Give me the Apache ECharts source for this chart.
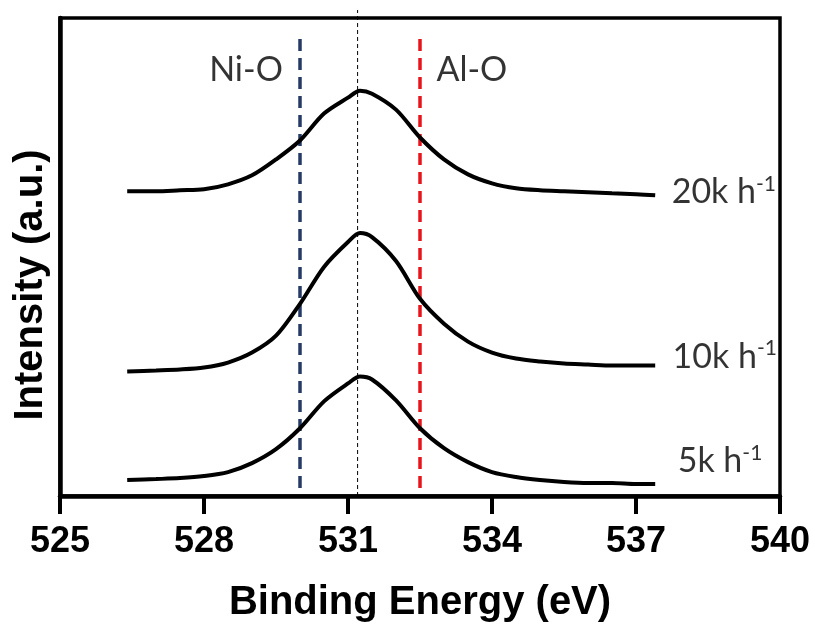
<!DOCTYPE html>
<html>
<head>
<meta charset="utf-8">
<script src="https://cdn.jsdelivr.net/npm/echarts@6/dist/echarts.min.js"></script>
<style>html,body{margin:0;padding:0;background:#fff}#c{width:815px;height:628px}</style>
</head>
<body>
<div id="c"></div>
<script>
// Binding energy (eV)
var energy = [526.4,527,527.5,528,528.5,529,529.5,530,530.5,531,531.25,531.5,532,532.5,533,533.5,534,534.5,535,535.5,536,536.5,537,537.4];
// Intensity (a.u., with vertical offsets as plotted)
var i20k = [306,306,307,308,313,322,338,357,384,400,407,404,388,360,338,323,314,309,307,306,305,304,303,302];
var i10k = [125,126,127,129,134,144,161,193,230,255,264,260,236,198,173,155,144,138,135,133,132,131,131,131];
var i5k  = [16,17,18,20,24,33,47,68,95,113,120,117,96,68,48,34,24,19,16,14,13,13,12,12];
var xTicks = [525,528,531,534,537,540];
var niO = 530.0, alO = 532.5, peakRef = 531.2;
var curveLabels = [
  {name:'20k', x:538.83, y:305},
  {name:'10k', x:538.85, y:140},
  {name:'5k',  x:538.75, y:35}
];
var refLabels = [
  {name:'Ni-O', x:528.875, y:428},
  {name:'Al-O', x:533.58,  y:428}
];

function pairs(xs, ys){ return xs.map(function(x,i){ return [x, ys[i]]; }); }
var lineSeries = function(ys){
  return {type:'line', data:pairs(energy, ys), showSymbol:false, smooth:0.3,
          lineStyle:{color:'#000', width:4}, itemStyle:{color:'#000'}, z:5};
};
var chart = echarts.init(document.getElementById('c'), null, {renderer:'canvas'});
chart.setOption({
  animation:false,
  grid:{left:60, right:35, top:18, bottom:130, show:true, borderColor:'#000', borderWidth:3.5, backgroundColor:'transparent'},
  xAxis:{type:'value', min:525, max:540, interval:3,
    axisLine:{lineStyle:{color:'#000', width:4.5}},
    axisTick:{show:true, inside:false, length:18, lineStyle:{color:'#000', width:4}},
    axisLabel:{color:'#000', fontFamily:'Liberation Sans', fontWeight:'bold', fontSize:36, margin:28,
      formatter:function(v){ return xTicks.indexOf(v)>=0 ? String(v) : ''; }},
    splitLine:{show:false},
    name:'Binding Energy (eV)', nameLocation:'middle', nameGap:87,
    nameTextStyle:{color:'#000', fontFamily:'Liberation Sans', fontWeight:'bold', fontSize:40}
  },
  yAxis:{type:'value', min:0, max:480,
    axisLine:{show:true, lineStyle:{color:'#000', width:4.5}},
    axisTick:{show:false}, axisLabel:{show:false}, splitLine:{show:false}
  },
  graphic:[{type:'text', x:31, y:285, rotation:Math.PI/2, silent:true,
    style:{text:'Intensity (a.u.)', fill:'#000', font:'bold 40px "Liberation Sans"', textAlign:'center', textVerticalAlign:'middle'}}],
  series:[
    {type:'line', data:[[peakRef,0],[peakRef,488]], showSymbol:false, clip:false,
     lineStyle:{color:'#000', width:1, type:[4,3]}, z:2},
    {type:'line', data:[[niO,8],[niO,462]], showSymbol:false,
     lineStyle:{color:'#263a66', width:3.5, type:[12,7]}, z:3},
    {type:'line', data:[[alO,8],[alO,462]], showSymbol:false,
     lineStyle:{color:'#e8141b', width:3.5, type:[12,7]}, z:3},
    lineSeries(i20k), lineSeries(i10k), lineSeries(i5k),
    {type:'scatter', symbolSize:0, silent:true, z:10,
     data:curveLabels.map(function(d){ return {value:[d.x,d.y], name:d.name}; }),
     label:{show:true, position:'inside', color:'#000', fontFamily:'Lato', fontSize:34,
       formatter:function(p){ return p.name+' h{s|-1}'; },
       rich:{s:{fontFamily:'Lato', fontSize:21, color:'#000', verticalAlign:'top', padding:[0,0,16,0]}}}
    },
    {type:'scatter', symbolSize:0, silent:true, z:10,
     data:refLabels.map(function(d){ return {value:[d.x,d.y], name:d.name}; }),
     label:{show:true, position:'inside', color:'#000', fontFamily:'Lato', fontSize:34,
       formatter:function(p){ return p.name; }}
    }
  ]
});
</script>
</body>
</html>
